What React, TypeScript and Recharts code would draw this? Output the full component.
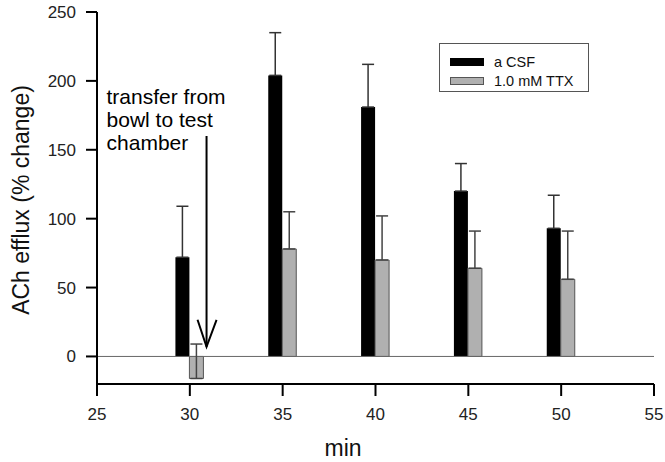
import { ComposedChart, Bar, XAxis, YAxis, ErrorBar, ReferenceLine } from 'recharts';

// sampling times (min) and mean % change with upward SEM
const minutes = [30, 35, 40, 45, 50];
const csfMean = [72, 204, 181, 120, 93];
const csfSem = [37, 31, 31, 20, 24];
const ttxMean = [-16, 78, 70, 64, 56];
const ttxSem = [25, 27, 32, 27, 35];

const xTicks = [25, 30, 35, 40, 45, 50, 55];
const yTicks = [0, 50, 100, 150, 200, 250];
const seriesNames = ['a CSF', '1.0 mM TTX'];
const noteLines = ['transfer from', 'bowl to test', 'chamber'];

// arrow for the transfer note, in data units
const arrowMin = 30.9;
const arrowFrom = 160;
const arrowTo = 7;

const data = minutes.map((m, i) => ({
  min: m,
  csf: csfMean[i],
  csfErr: [0, csfSem[i]],
  ttx: ttxMean[i],
  ttxErr: [0, ttxSem[i]],
}));

const FONT = '"Liberation Sans", Arial, sans-serif';

const NoteArrow = (props: any) => {
  const { x1, y1, x2, y2 } = props;
  const top = Math.min(y1, y2);
  const tip = Math.max(y1, y2);
  return (
    <g>
      <text x={x1 - 100} y={top - 32} fontSize={21} fontFamily={FONT} fill="#000">
        {noteLines.map((l, i) => (
          <tspan key={l} x={x1 - 100} dy={i === 0 ? 0 : 23}>
            {l}
          </tspan>
        ))}
      </text>
      <line x1={x1} y1={top} x2={x2} y2={tip} stroke="#000" strokeWidth={2} />
      <polyline
        points={`${x1 - 9},${tip - 27} ${x1},${tip} ${x1 + 10},${tip - 27}`}
        fill="none"
        stroke="#000"
        strokeWidth={2}
      />
    </g>
  );
};

const YLabel = (props: any) => {
  const { viewBox } = props;
  const cy = viewBox.y + viewBox.height / 2 + 2;
  return (
    <text
      x={29}
      y={cy}
      transform={`rotate(-90, 29, ${cy})`}
      textAnchor="middle"
      fontSize={23}
      fontFamily={FONT}
      fill="#111"
    >
      ACh efflux (% change)
    </text>
  );
};

const XLabel = () => (
  <text x={343} y={456} textAnchor="middle" fontSize={23} fontFamily={FONT} fill="#111">
    min
  </text>
);

function ChartLegend() {
  const swatches = [
    { fill: '#000', stroke: '#000' },
    { fill: '#b0b0b0', stroke: '#555' },
  ];
  return (
    <div
      style={{
        position: 'absolute',
        left: 439,
        top: 43,
        width: 150,
        height: 49,
        border: '1.5px solid #555',
        boxSizing: 'border-box',
        paddingTop: 8,
        paddingLeft: 10,
        fontFamily: FONT,
        fontSize: 14.5,
        color: '#111',
      }}
    >
      {seriesNames.map((name, i) => (
        <div key={name} style={{ display: 'flex', alignItems: 'center', height: 19 }}>
          <span
            style={{
              display: 'inline-block',
              width: 34,
              height: 8,
              background: swatches[i].fill,
              border: `1px solid ${swatches[i].stroke}`,
              boxSizing: 'border-box',
              marginRight: 10,
            }}
          />
          {name}
        </div>
      ))}
    </div>
  );
}

export default function App() {
  return (
    <div style={{ position: 'relative', width: 665, height: 462, background: '#fff' }}>
      <style>{'body{margin:0}'}</style>
      <ComposedChart
        width={665}
        height={462}
        data={data}
        margin={{ top: 12, right: 11, bottom: 28, left: 0 }}
        barGap={0}
      >
        <XAxis
          type="number"
          dataKey="min"
          domain={[25, 55]}
          ticks={xTicks}
          allowDataOverflow
          height={50}
          tickSize={12}
          tickMargin={12}
          axisLine={{ stroke: '#000', strokeWidth: 2 }}
          tickLine={{ stroke: '#000', strokeWidth: 2 }}
          tick={{ fill: '#222', fontSize: 17, fontFamily: FONT }}
          label={<XLabel />}
        />
        <YAxis
          type="number"
          domain={[-20, 250]}
          ticks={yTicks}
          allowDataOverflow
          width={97}
          tickSize={11}
          tickMargin={10}
          axisLine={{ stroke: '#000', strokeWidth: 2 }}
          tickLine={{ stroke: '#000', strokeWidth: 2 }}
          tick={{ fill: '#222', fontSize: 17, fontFamily: FONT }}
          label={<YLabel />}
        />
        <ReferenceLine y={0} stroke="#666" strokeWidth={1} />
        <Bar dataKey="csf" name={seriesNames[0]} fill="#000" barSize={14} isAnimationActive={false}>
          <ErrorBar
            dataKey="csfErr"
            direction="y"
            width={6}
            stroke="#333"
            strokeWidth={1.5}
            isAnimationActive={false}
          />
        </Bar>
        <Bar
          dataKey="ttx"
          name={seriesNames[1]}
          fill="#b0b0b0"
          stroke="#555"
          strokeWidth={1}
          barSize={14}
          isAnimationActive={false}
        >
          <ErrorBar
            dataKey="ttxErr"
            direction="y"
            width={6}
            stroke="#444"
            strokeWidth={1.5}
            isAnimationActive={false}
          />
        </Bar>
        <ReferenceLine
          segment={[
            { x: arrowMin, y: arrowFrom },
            { x: arrowMin, y: arrowTo },
          ]}
          shape={<NoteArrow />}
        />
      </ComposedChart>
      <ChartLegend />
    </div>
  );
}
